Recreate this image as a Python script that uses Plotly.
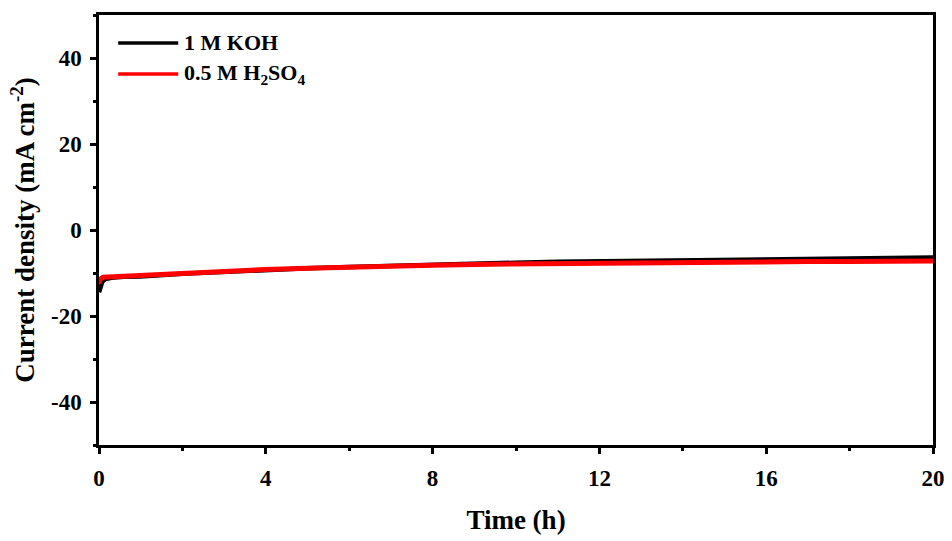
import plotly.graph_objects as go

# Chronoamperometry: current density vs time in two electrolytes
time_koh = [0, 0.03, 0.08, 0.15, 0.3, 0.6, 1, 2, 3, 4, 5, 6, 7, 8, 9, 10,
            11, 12, 13, 14, 15, 16, 17, 18, 19, 20]
j_koh = [-14.5, -13.2, -12.0, -11.4, -11.1, -10.9, -10.8, -10.2, -9.7, -9.3,
         -8.9, -8.6, -8.3, -8.0, -7.8, -7.6, -7.4, -7.3, -7.1, -7.0, -6.9,
         -6.8, -6.7, -6.6, -6.5, -6.4]

time_h2so4 = [0, 0.02, 0.1, 0.5, 1, 2, 2.5, 3, 4, 5, 6, 7, 8, 9, 10, 11,
              12, 13, 14, 15, 16, 17, 18, 19, 20]
j_h2so4 = [-12.5, -11.5, -11.0, -10.8, -10.6, -10.1, -9.8, -9.6, -9.2, -8.9,
           -8.6, -8.4, -8.2, -8.0, -7.9, -7.7, -7.7, -7.6, -7.5, -7.45, -7.4,
           -7.35, -7.3, -7.3, -7.2]

x_ticks = [0, 4, 8, 12, 16, 20]
y_ticks = [-40, -20, 0, 20, 40]
y_tick_text = ["-40", "-20", "0", "20", "40"]

FONT = "Liberation Serif"

fig = go.Figure()
fig.add_trace(go.Scatter(x=time_koh, y=j_koh, mode="lines", name="1 M KOH",
                         line=dict(color="black", width=4.5), showlegend=False))
fig.add_trace(go.Scatter(x=time_h2so4, y=j_h2so4, mode="lines",
                         name="0.5 M H<sub>2</sub>SO<sub>4</sub>",
                         line=dict(color="#ff0000", width=5), showlegend=False))

# Legend drawn as short line samples with labels
legend_items = [("1 M KOH", "black", 0.935),
                ("0.5 M H<sub>2</sub>SO<sub>4</sub>", "#ff0000", 0.863)]
for label, color, yp in legend_items:
    fig.add_shape(type="line", xref="paper", yref="paper",
                  x0=0.023, x1=0.095, y0=yp, y1=yp,
                  line=dict(color=color, width=3.5))
    fig.add_annotation(xref="paper", yref="paper", x=0.099, y=yp,
                       text=label, showarrow=False, xanchor="left",
                       yanchor="middle",
                       font=dict(family=FONT, size=22, color="black",
                                 weight="bold"))

axis_common = dict(showline=True, linecolor="black", linewidth=2.5,
                   mirror=True, ticks="outside", ticklen=6, tickwidth=2.5,
                   tickcolor="black", showgrid=False, zeroline=False,
                   automargin=False,
                   tickfont=dict(family=FONT, size=23, color="black",
                                 weight="bold"))

fig.update_xaxes(range=[0, 20], tickvals=x_ticks,
                 title=dict(text="Time (h)", standoff=20,
                            font=dict(family=FONT, size=27, color="black",
                                      weight="bold")),
                 minor=dict(ticks="outside", ticklen=3, tickwidth=2.5,
                            tickcolor="black", dtick=2),
                 ticklabelstandoff=5,
                 **axis_common)
fig.update_yaxes(range=[-50, 50], tickvals=y_ticks, ticktext=y_tick_text,
                 title=dict(text="Current density (mA cm<sup>-2</sup>)",
                            standoff=9,
                            font=dict(family=FONT, size=27, color="black",
                                      weight="bold")),
                 minor=dict(ticks="outside", ticklen=3, tickwidth=2.5,
                            tickcolor="black", dtick=10),
                 ticklabelstandoff=4,
                 **axis_common)

fig.update_layout(width=952, height=541,
                  margin=dict(l=99, r=19, t=15, b=96),
                  plot_bgcolor="white", paper_bgcolor="white",
                  font=dict(family=FONT, color="black"))

fig.write_html("out.html")
